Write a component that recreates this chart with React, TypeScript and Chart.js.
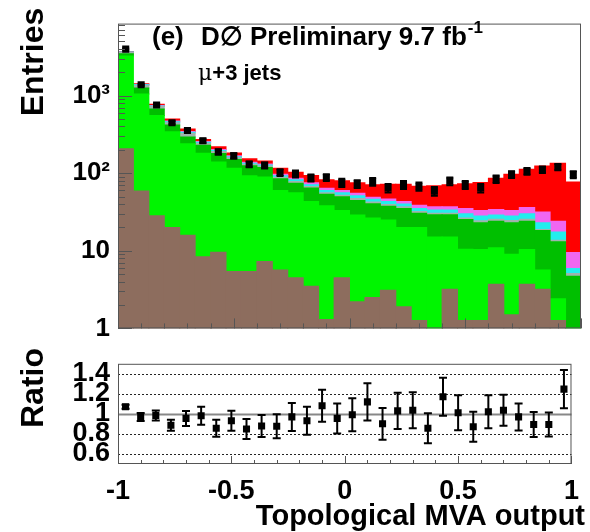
import React, { useEffect, useRef } from "react";
import { Chart, registerables } from "chart.js";

Chart.register(...registerables);

const FONT = '"Liberation Sans", Arial, Helvetica, sans-serif';

// 30 bins of the topological MVA output, bin centres
const binCenters = [
  -0.9667, -0.9, -0.8333, -0.7667, -0.7, -0.6333, -0.5667, -0.5, -0.4333, -0.3667,
  -0.3, -0.2333, -0.1667, -0.1, -0.0333, 0.0333, 0.1, 0.1667, 0.2333, 0.3,
  0.3667, 0.4333, 0.5, 0.5667, 0.6333, 0.7, 0.7667, 0.8333, 0.9, 0.9667,
];

const xTickValues = [-1, -0.5, 0, 0.5, 1];
const xTickLabels = ["-1", "-0.5", "0", "0.5", "1"];
const yTopTickValues = [1, 10, 100, 1000];
const yTopTickLabels = ["1", "10", "10²", "10³"];
const ratioTickValues = [0.6, 0.8, 1, 1.2, 1.4];
const ratioTickLabels = ["0.6", "0.8", "1", "1.2", "1.4"];

// stacked components (bottom to top)
const multijet = [207, 58.7, 28.3, 20, 15.8, 8.4, 9.6, 5.4, 5.4, 7.3, 5.65, 4.5, 3.5, 1.3, 4.5, 2.2, 2.5, 3.1, 1.9, 1.26, 0, 3.2, 1.26, 1.26, 3.7, 1.5, 3.7, 3.2, 1.26, 0];
const wLight = [3013, 991, 526, 321, 223, 172, 130, 110, 87, 82, 54, 51.5, 39.5, 36.7, 28.5, 26.8, 24, 21.9, 18.1, 18.7, 15, 11.8, 9.2, 9.1, 7.2, 7.5, 6.7, 2.45, 1.14, 0];
const wHeavy = [230, 200, 116, 76, 54, 48, 40, 35, 32, 29, 25, 18, 21.4, 15.5, 16.5, 15.3, 13.8, 12.4, 15.1, 10.5, 14.1, 14.1, 14.8, 12.6, 13.2, 14, 13.7, 12.55, 10.7, 4.7];
const diboson = [150, 100, 50, 28, 35, 14, 10, 7, 6, 5, 4, 4, 3.1, 2.5, 2.5, 2.7, 2.2, 2.1, 1.9, 1.5, 1.4, 1.4, 1.2, 1.5, 1.4, 1.5, 1.4, 0.6, 0.6, 0.4];
const zJets = [30, 25, 15, 15, 10, 8, 6, 5, 4, 4, 4, 4, 3.5, 4, 4, 4, 3.5, 3.5, 3, 3, 3, 3, 3.5, 3.5, 3.5, 3.5, 4.5, 4.2, 3.7, 0.8];
const singleTop = [20, 15, 10, 10, 7, 5, 6, 5, 4, 4, 4, 4, 4, 4, 4, 4, 3, 3.5, 3, 3.5, 3.5, 3.5, 5, 5, 5, 5, 6, 8.5, 6.6, 3.6];
const ttbar = [50, 30, 25, 30, 26, 17, 18, 15, 15, 12, 19, 17, 18, 18, 20, 20, 22, 25.5, 29, 29.5, 32, 34, 38, 43, 52, 64, 76, 92.5, 110, 67.5];

const dataCounts = [3960, 1374, 755, 447, 354, 262, 188, 167, 130, 126, 102, 98, 87, 88, 75.5, 72.7, 77.6, 64.4, 70.7, 67.5, 58.7, 79, 70.7, 64.4, 83.8, 96.4, 106, 111, 120, 96];
const dataErrors = [63, 37, 27, 21, 19, 16, 14, 13, 11, 11, 10, 10, 9, 9, 9, 8.5, 9, 8, 8.4, 8.2, 7.7, 8.9, 8.4, 8, 9.2, 9.8, 10.3, 10.5, 11, 9.8];

const ratioValues = [1.072, 0.97, 0.985, 0.886, 0.955, 0.982, 0.856, 0.931, 0.85, 0.88, 0.877, 0.97, 0.931, 1.081, 0.955, 0.991, 1.12, 0.901, 1.03, 1.036, 0.856, 1.171, 1.012, 0.871, 1.021, 1.036, 0.97, 0.895, 0.895, 1.247];
const ratioErrors = [0.02, 0.04, 0.05, 0.055, 0.075, 0.09, 0.085, 0.1, 0.1, 0.11, 0.12, 0.14, 0.14, 0.16, 0.15, 0.165, 0.185, 0.158, 0.18, 0.18, 0.15, 0.19, 0.175, 0.15, 0.165, 0.155, 0.135, 0.125, 0.12, 0.19];

const components = [
  { label: "Multijet", values: multijet, color: "#8d6d5e" },
  { label: "W+light", values: wLight, color: "#00f500" },
  { label: "W+heavy", values: wHeavy, color: "#00bf00" },
  { label: "Diboson", values: diboson, color: "#9fb3ad" },
  { label: "Z+jets", values: zJets, color: "#22eeee" },
  { label: "Single top", values: singleTop, color: "#f066f0" },
  { label: "ttbar", values: ttbar, color: "#ff0000" },
];

const STACK_FLOOR = 0.001; // below the log axis minimum, so the lowest layer starts off-axis

const boldFont = (size: number) => `bold ${size}px ${FONT}`;

function drawErrorBars(chart: any, values: number[], errors: number[], cap: number) {
  const { ctx, scales } = chart;
  const x = scales.x;
  const y = scales.y;
  ctx.save();
  ctx.beginPath();
  ctx.rect(chart.chartArea.left, chart.chartArea.top, chart.chartArea.width, chart.chartArea.height);
  ctx.clip();
  ctx.strokeStyle = "#000";
  ctx.lineWidth = 2;
  for (let i = 0; i < binCenters.length; i++) {
    const px = x.getPixelForValue(binCenters[i]);
    const lo = Math.max(values[i] - errors[i], 1e-6);
    const y1 = y.getPixelForValue(lo);
    const y2 = y.getPixelForValue(values[i] + errors[i]);
    ctx.beginPath();
    ctx.moveTo(px, y1);
    ctx.lineTo(px, y2);
    ctx.moveTo(px - cap, y1);
    ctx.lineTo(px + cap, y1);
    ctx.moveTo(px - cap, y2);
    ctx.lineTo(px + cap, y2);
    ctx.stroke();
  }
  ctx.restore();
}

function drawFrameAndXTicks(chart: any, minor: number, major: number) {
  const { ctx, chartArea: a, scales } = chart;
  const x = scales.x;
  ctx.save();
  ctx.strokeStyle = "#555";
  ctx.lineWidth = 1;
  ctx.strokeRect(a.left + 0.5, a.top + 0.5, a.width - 1, a.height - 1);
  ctx.beginPath();
  for (let k = 0; k <= 20; k++) {
    const v = -1 + k * 0.1;
    const px = Math.round(x.getPixelForValue(v)) + 0.5;
    const len = k % 5 === 0 ? major : minor;
    ctx.moveTo(px, a.bottom);
    ctx.lineTo(px, a.bottom - len);
  }
  ctx.stroke();
  ctx.restore();
}

const topDecor = {
  id: "topDecor",
  afterDatasetsDraw(chart: any) {
    drawErrorBars(chart, dataCounts, dataErrors, 3.5);
  },
  afterDraw(chart: any) {
    const { ctx, chartArea: a, scales } = chart;
    drawFrameAndXTicks(chart, 5, 10);
    const y = scales.y;
    ctx.save();
    ctx.strokeStyle = "#555";
    ctx.lineWidth = 1;
    ctx.beginPath();
    for (let d = 0; d <= 3; d++) {
      for (let m = 1; m <= 9; m++) {
        const v = m * Math.pow(10, d);
        if (v > y.max) break;
        const py = Math.round(y.getPixelForValue(v)) + 0.5;
        const len = m === 1 ? 14 : 7;
        ctx.moveTo(a.left, py);
        ctx.lineTo(a.left + len, py);
      }
    }
    ctx.stroke();

    ctx.fillStyle = "#000";
    ctx.textBaseline = "alphabetic";
    ctx.textAlign = "left";
    ctx.font = boldFont(26);
    ctx.fillText("(e)", 152, 45);
    const main = "D\u2205 Preliminary 9.7 fb";
    ctx.fillText(main, 201, 45);
    const w = ctx.measureText(main).width;
    ctx.font = boldFont(17);
    ctx.fillText("-1", 201 + w + 1, 33);

    ctx.font = `22px "DejaVu Serif", serif`;
    ctx.fillText("\u03bc", 198, 80);
    const mw = ctx.measureText("\u03bc").width;
    ctx.font = boldFont(22);
    ctx.fillText("+3 jets", 198 + mw, 80);

    ctx.save();
    ctx.translate(43, 62);
    ctx.rotate(-Math.PI / 2);
    ctx.textAlign = "center";
    ctx.font = boldFont(32);
    ctx.fillText("Entries", 0, 0);
    ctx.restore();
    ctx.restore();
  },
};

const ratioDecor = {
  id: "ratioDecor",
  beforeDatasetsDraw(chart: any) {
    const { ctx, chartArea: a, scales } = chart;
    const y = scales.y;
    ctx.save();
    for (const v of ratioTickValues) {
      const py = Math.round(y.getPixelForValue(v)) + 0.5;
      ctx.beginPath();
      if (v === 1) {
        ctx.strokeStyle = "#888";
        ctx.lineWidth = 2;
        ctx.setLineDash([]);
      } else {
        ctx.strokeStyle = "#222";
        ctx.lineWidth = 1;
        ctx.setLineDash([2, 2]);
      }
      ctx.moveTo(a.left, py);
      ctx.lineTo(a.right, py);
      ctx.stroke();
    }
    ctx.restore();
  },
  afterDatasetsDraw(chart: any) {
    drawErrorBars(chart, ratioValues, ratioErrors, 4);
  },
  afterDraw(chart: any) {
    const { ctx } = chart;
    drawFrameAndXTicks(chart, 4, 8);
    ctx.save();
    ctx.fillStyle = "#000";
    ctx.textAlign = "right";
    ctx.textBaseline = "alphabetic";
    ctx.font = boldFont(29);
    ctx.fillText("Topological MVA output", 585, 180);
    ctx.translate(43, 43);
    ctx.rotate(-Math.PI / 2);
    ctx.textAlign = "center";
    ctx.font = boldFont(32);
    ctx.fillText("Ratio", 0, 0);
    ctx.restore();
  },
};

export default function App() {
  const topRef = useRef<HTMLCanvasElement>(null);
  const botRef = useRef<HTMLCanvasElement>(null);

  useEffect(() => {
    let base = binCenters.map(() => STACK_FLOOR);
    const barSets = components.map((c) => {
      const data = binCenters.map((x, i) => {
        const lo = base[i];
        return { x, y: [lo, lo + c.values[i]] };
      });
      base = base.map((b, i) => b + c.values[i]);
      return {
        type: "bar" as const,
        label: c.label,
        data,
        backgroundColor: c.color,
        borderWidth: 0,
        grouped: false,
        barPercentage: 1,
        categoryPercentage: 1,
        inflateAmount: 0.5,
        order: 2,
      };
    });

    const top = new Chart(topRef.current!, {
      type: "bar",
      data: {
        datasets: [
          ...barSets,
          {
            type: "scatter" as const,
            label: "Data",
            data: binCenters.map((x, i) => ({ x, y: dataCounts[i] })),
            pointStyle: "rect",
            pointRadius: 5,
            backgroundColor: "#000",
            borderWidth: 0,
            order: 0,
          } as any,
        ],
      },
      options: {
        responsive: false,
        animation: false,
        events: [],
        layout: { padding: { top: 13, right: 9, left: 0, bottom: 0 } },
        plugins: { legend: { display: false }, tooltip: { enabled: false } },
        scales: {
          x: {
            type: "linear",
            min: -1,
            max: 1,
            offset: false,
            grid: { display: false, drawTicks: false },
            border: { display: false },
            ticks: { display: false },
            afterFit: (s: any) => {
              s.height = 17;
            },
          },
          y: {
            type: "logarithmic",
            min: 1,
            max: 8450,
            grid: { display: false, drawTicks: false },
            border: { display: false },
            afterBuildTicks: (s: any) => {
              s.ticks = yTopTickValues.map((v) => ({ value: v }));
            },
            afterFit: (s: any) => {
              s.width = 118;
            },
            ticks: {
              padding: 8,
              autoSkip: false,
              color: "#000",
              font: { family: FONT, size: 26, weight: "bold" },
              callback: (v: any) => {
                const i = yTopTickValues.indexOf(Number(v));
                return i >= 0 ? yTopTickLabels[i] : "";
              },
            },
          },
        },
      } as any,
      plugins: [topDecor],
    });

    const bottom = new Chart(botRef.current!, {
      type: "scatter",
      data: {
        datasets: [
          {
            label: "Data/MC",
            data: binCenters.map((x, i) => ({ x, y: ratioValues[i] })),
            pointStyle: "rect",
            pointRadius: 5,
            backgroundColor: "#000",
            borderWidth: 0,
          },
        ],
      },
      options: {
        responsive: false,
        animation: false,
        events: [],
        layout: { padding: { top: 9, right: 9, left: 0, bottom: 0 } },
        plugins: { legend: { display: false }, tooltip: { enabled: false } },
        scales: {
          x: {
            type: "linear",
            min: -1,
            max: 1,
            grid: { display: false, drawTicks: false },
            border: { display: false },
            afterBuildTicks: (s: any) => {
              s.ticks = xTickValues.map((v) => ({ value: v }));
            },
            afterFit: (s: any) => {
              s.height = 68;
            },
            ticks: {
              padding: 11,
              color: "#000",
              maxRotation: 0,
              autoSkip: false,
              font: { family: FONT, size: 27, weight: "bold" },
              callback: (v: any) => {
                const i = xTickValues.indexOf(Number(v));
                return i >= 0 ? xTickLabels[i] : "";
              },
            },
          },
          y: {
            type: "linear",
            min: 0.5,
            max: 1.5,
            grid: { display: false, drawTicks: false },
            border: { display: false },
            afterBuildTicks: (s: any) => {
              s.ticks = ratioTickValues.map((v) => ({ value: v }));
            },
            afterFit: (s: any) => {
              s.width = 118;
            },
            ticks: {
              padding: 8,
              autoSkip: false,
              color: "#000",
              font: { family: FONT, size: 27, weight: "bold", lineHeight: 0.8 },
              callback: (v: any) => {
                const i = ratioTickValues.findIndex((t) => Math.abs(t - Number(v)) < 1e-6);
                return i >= 0 ? ratioTickLabels[i] : "";
              },
            },
          },
        },
      } as any,
      plugins: [ratioDecor],
    });

    return () => {
      top.destroy();
      bottom.destroy();
    };
  }, []);

  return (
    <div style={{ position: "absolute", left: 0, top: 0, width: 590, height: 532, background: "#fff" }}>
      <canvas
        ref={topRef}
        width={590}
        height={352}
        style={{ position: "absolute", left: 0, top: 0, width: 590, height: 352 }}
      />
      <canvas
        ref={botRef}
        width={590}
        height={187}
        style={{ position: "absolute", left: 0, top: 345, width: 590, height: 187 }}
      />
    </div>
  );
}
